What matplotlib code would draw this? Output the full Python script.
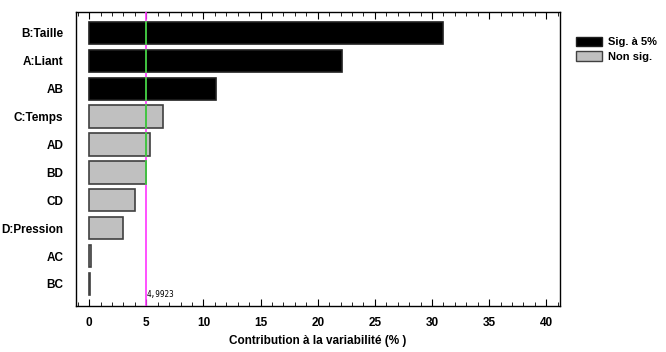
import matplotlib.pyplot as plt
from matplotlib.patches import Patch
from matplotlib.ticker import MultipleLocator

# Pareto-type chart of effect contributions
effects = ['B:Taille', 'A:Liant', 'AB', 'C:Temps', 'AD', 'BD', 'CD',
           'D:Pression', 'AC', 'BC']
contrib = [31.0, 22.1, 11.1, 6.5, 5.3, 4.99, 4.0, 3.0, 0.15, 0.05]
significant = [True, True, True, False, False, False, False, False, False, False]
threshold = 4.9923
legend_labels = ['Sig. à 5%', 'Non sig.']

plt.rcParams['font.family'] = ['Liberation Sans', 'DejaVu Sans']

fig = plt.figure(figsize=(6.66, 3.52), dpi=100)
ax = fig.add_axes([76 / 666, 1 - 306 / 352, 484 / 666, 294 / 352])

rows = list(range(len(effects)))
colors = ['black' if s else '#c0c0c0' for s in significant]
edges = ['#202020' if s else '#404040' for s in significant]
ax.barh(rows, contrib, height=0.8, color=colors, edgecolor=edges, linewidth=1.2, zorder=2)

# threshold line: magenta, drawn green where it crosses the bars
ax.axvline(threshold, color='#ff33ff', linewidth=1.2, zorder=3)
for r, v in zip(rows, contrib):
    if v >= threshold - 0.01:
        ax.plot([threshold, threshold], [r - 0.4, r + 0.4], color='#22dd22',
                linewidth=1.2, zorder=4)
ax.text(threshold + 0.05, 9.55, '4,9923', fontsize=5.5,
        family='DejaVu Sans Mono', va='bottom', ha='left', zorder=5)

ax.set_xlim(-1.15, 41.2)
ax.set_ylim(9.79, -0.75)
ax.set_yticks(rows)
ax.set_yticklabels(effects, fontsize=8.5, fontweight='bold')
ax.tick_params(axis='y', length=0, pad=9)
ax.xaxis.set_major_locator(MultipleLocator(5))
ax.xaxis.set_minor_locator(MultipleLocator(1))
ax.tick_params(axis='x', which='major', direction='in', top=True, length=5,
               labelsize=8.5, pad=8)
ax.tick_params(axis='x', which='minor', direction='in', top=True, length=3)
for lbl in ax.get_xticklabels():
    lbl.set_fontweight('bold')
ax.set_xlabel('Contribution à la variabilité (% )', fontsize=8.5, fontweight='bold',
              labelpad=4)
for sp in ax.spines.values():
    sp.set_linewidth(1.0)

handles = [Patch(facecolor='black', edgecolor='#202020'),
           Patch(facecolor='#c0c0c0', edgecolor='#404040')]
fig.legend(handles, legend_labels, loc='upper left', bbox_to_anchor=(566 / 666, 1 - 27 / 352),
           frameon=False, prop={'weight': 'bold', 'size': 8},
           handlelength=2.3, handleheight=0.9, labelspacing=0.35, handletextpad=0.6)

fig.savefig('out.png', dpi=100)
